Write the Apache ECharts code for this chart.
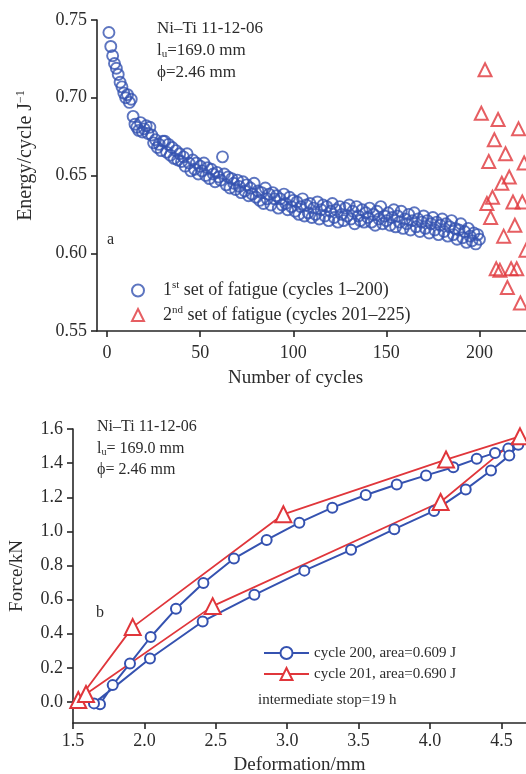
<!DOCTYPE html>
<html>
<head>
<meta charset="utf-8">
<script src="https://cdn.jsdelivr.net/npm/echarts@6.0.0/dist/echarts.min.js"></script>
<style>
  html, body { margin: 0; padding: 0; background: #fff; }
  #chart { width: 526px; height: 774px; }
</style>
</head>
<body>
<div id="chart"></div>
<script>
// panel a: energy per cycle, cycles 1-200 (index + 1 = cycle number)
const energySet1 = [
  0.742, 0.733, 0.727, 0.722, 0.719, 0.715, 0.710, 0.707, 0.703, 0.700,
  0.702, 0.697, 0.699, 0.688, 0.683, 0.681, 0.679, 0.684, 0.678, 0.680,
  0.682, 0.677, 0.681, 0.676, 0.671, 0.673, 0.668, 0.670, 0.666, 0.672,
  0.672, 0.665, 0.670, 0.663, 0.668, 0.661, 0.666, 0.660, 0.664, 0.659,
  0.662, 0.656, 0.664, 0.658, 0.653, 0.660, 0.654, 0.658, 0.651, 0.656,
  0.653, 0.658, 0.650, 0.655, 0.648, 0.654, 0.651, 0.646, 0.652, 0.649,
  0.647, 0.662, 0.651, 0.644, 0.649, 0.642, 0.648, 0.645, 0.641, 0.647,
  0.643, 0.639, 0.646, 0.640, 0.644, 0.637, 0.642, 0.638, 0.645, 0.636,
  0.640, 0.634, 0.639, 0.632, 0.642, 0.635, 0.638, 0.631, 0.639, 0.635,
  0.637, 0.629, 0.635, 0.631, 0.638, 0.632, 0.628, 0.636, 0.630, 0.634,
  0.627, 0.633, 0.625, 0.630, 0.635, 0.624, 0.631, 0.626, 0.632, 0.623,
  0.629, 0.625, 0.633, 0.622, 0.628, 0.631, 0.624, 0.630, 0.621, 0.627,
  0.632, 0.623, 0.628, 0.620, 0.630, 0.625, 0.621, 0.629, 0.624, 0.631,
  0.622, 0.627, 0.619, 0.630, 0.624, 0.621, 0.628, 0.620, 0.626, 0.623,
  0.629, 0.620, 0.625, 0.618, 0.627, 0.622, 0.630, 0.619, 0.624, 0.621,
  0.626, 0.618, 0.623, 0.628, 0.617, 0.624, 0.620, 0.627, 0.616, 0.622,
  0.619, 0.625, 0.615, 0.621, 0.626, 0.617, 0.622, 0.614, 0.620, 0.624,
  0.616, 0.621, 0.613, 0.619, 0.623, 0.615, 0.620, 0.612, 0.618, 0.622,
  0.614, 0.619, 0.611, 0.617, 0.621, 0.612, 0.616, 0.609, 0.615, 0.619,
  0.610, 0.614, 0.607, 0.616, 0.611, 0.608, 0.613, 0.606, 0.612, 0.609
];

// panel a: second set after the stop
const cyclesSet2 = [201, 203, 204, 205, 206, 207, 208, 209, 210, 211, 212, 213,
  214, 215, 216, 217, 218, 219, 220, 221, 222, 223, 224, 225];
const energySet2 = [0.690, 0.718, 0.632, 0.659, 0.623, 0.636, 0.673, 0.590, 0.686, 0.589, 0.645, 0.611,
  0.664, 0.578, 0.649, 0.590, 0.633, 0.618, 0.590, 0.680, 0.568, 0.633, 0.658, 0.602];

const energyTicks = [0.55, 0.60, 0.65, 0.70, 0.75];
const cycleTicks = [0, 50, 100, 150, 200];

// panel b: force-deformation loops
const deform200 = [1.689, 1.778, 1.899, 2.044, 2.221, 2.413, 2.627, 2.856, 3.085, 3.316, 3.550, 3.767,
  3.972, 4.163, 4.327, 4.455, 4.548, 4.618, 4.555, 4.427, 4.250, 4.028, 3.750, 3.447,
  3.120, 2.770, 2.408, 2.039, 1.647];
const force200 = [-0.013, 0.099, 0.226, 0.381, 0.546, 0.698, 0.841, 0.950, 1.051, 1.139, 1.213, 1.275,
  1.328, 1.376, 1.425, 1.460, 1.485, 1.508, 1.444, 1.357, 1.246, 1.120, 1.013, 0.892,
  0.770, 0.628, 0.472, 0.255, -0.008];
const deform201 = [1.537, 1.918, 2.973, 4.112, 4.630, 4.074, 2.478, 1.591];
const force201 = [0.012, 0.439, 1.100, 1.421, 1.557, 1.172, 0.562, 0.047];

const deformTicks = [1.5, 2.0, 2.5, 3.0, 3.5, 4.0, 4.5];
const forceTicks = [0.0, 0.2, 0.4, 0.6, 0.8, 1.0, 1.2, 1.4, 1.6];

const SERIF = '"Liberation Serif", "DejaVu Serif", serif';
const TXT = '#2b2b2b';
const AX = '#262626';
const BLUE = '#3552b0';
const RED = '#e0363b';

const chart = echarts.init(document.getElementById('chart'));

function axisBase(ticks, digits, margin) {
  return {
    type: 'value',
    splitLine: { show: false },
    axisLine: { show: true, onZero: false, lineStyle: { color: AX, width: 1.6 } },
    axisTick: { show: true, length: 6, customValues: ticks, lineStyle: { color: AX, width: 1.6 } },
    axisLabel: {
      customValues: ticks,
      margin: margin,
      color: TXT,
      fontFamily: SERIF,
      fontSize: 18,
      formatter: v => v.toFixed(digits)
    }
  };
}

const set1 = energySet1.map((v, i) => [i + 1, v]);
const set2 = cyclesSet2.map((c, i) => [c, energySet2[i]]);
const loop200 = deform200.map((d, i) => [d, force200[i]]);
const loop201 = deform201.map((d, i) => [d, force201[i]]);

function txt(x, y, text, size, rich) {
  return {
    type: 'text', x: x, y: y,
    style: {
      text: text, fill: TXT, fontFamily: SERIF, fontSize: size,
      verticalAlign: 'middle', rich: rich
    }
  };
}

const noteRich = (size) => ({
  m: { fontFamily: SERIF, fontSize: size, color: TXT },
  sub: { fontFamily: SERIF, fontSize: Math.round(size * 0.65), color: TXT, verticalAlign: 'bottom' }
});

const option = {
  backgroundColor: '#fff',
  animation: false,
  grid: [
    { left: 97, top: 20, right: 0, height: 311, outerBoundsMode: 'none' },
    { left: 73, top: 429, right: 0, height: 294, outerBoundsMode: 'none' }
  ],
  xAxis: [
    Object.assign(axisBase(cycleTicks, 0, 13), {
      gridIndex: 0, min: -5.4, max: 225,
      name: 'Number of cycles', nameLocation: 'middle', nameGap: 38,
      nameTextStyle: { fontFamily: SERIF, fontSize: 19, color: TXT, padding: [0, 32, 0, 0] }
    }),
    Object.assign(axisBase(deformTicks, 1, 9), {
      gridIndex: 1, min: 1.5, max: 4.672,
      name: 'Deformation/mm', nameLocation: 'middle', nameGap: 33,
      nameTextStyle: { fontFamily: SERIF, fontSize: 19, color: TXT }
    })
  ],
  yAxis: [
    Object.assign(axisBase(energyTicks, 2, 10), {
      gridIndex: 0, min: 0.55, max: 0.75,
      name: '{a|Energy/cycle J}{s|−1}', nameLocation: 'middle', nameGap: 60,
      nameTextStyle: {
        padding: [0, 0, 0, 40],
        rich: {
          a: { fontFamily: SERIF, fontSize: 20, color: TXT, lineHeight: 22 },
          s: { fontFamily: SERIF, fontSize: 12, color: TXT, verticalAlign: 'top', lineHeight: 22 }
        }
      }
    }),
    Object.assign(axisBase(forceTicks, 1, 10), {
      gridIndex: 1, min: -0.123, max: 1.6,
      name: 'Force/kN', nameLocation: 'middle', nameGap: 46,
      nameTextStyle: { fontFamily: SERIF, fontSize: 19, color: TXT }
    })
  ],
  legend: [
    {
      data: ['set1', 'set2'],
      orient: 'vertical', left: 126, top: 275,
      itemWidth: 12, itemHeight: 12, itemGap: 5,
      formatter: n => n === 'set1'
        ? '{n|1}{sup|st}{n| set of fatigue (cycles 1–200)}'
        : '{n|2}{sup|nd}{n| set of fatigue (cycles 201–225)}',
      textStyle: {
        padding: [0, 0, 0, 14],
        rich: {
          n: { fontFamily: SERIF, fontSize: 18, color: TXT, lineHeight: 21 },
          sup: { fontFamily: SERIF, fontSize: 11, color: TXT, verticalAlign: 'top', lineHeight: 21 }
        }
      }
    },
    {
      data: ['cycle 200, area=0.609 J', 'cycle 201, area=0.690 J'],
      orient: 'vertical', left: 258, top: 640,
      itemWidth: 45, itemHeight: 15, itemGap: 5,
      textStyle: { fontFamily: SERIF, fontSize: 15, color: TXT, lineHeight: 16 }
    }
  ],
  graphic: [
    txt(157, 29, 'Ni–Ti 11-12-06', 17),
    txt(157, 51, '{m|l}{sub|u}{m|=169.0 mm}', 17, noteRich(17)),
    txt(157, 73, 'ϕ=2.46 mm', 17),
    txt(107, 240, 'a', 16),
    txt(97, 427, 'Ni–Ti 11-12-06', 16),
    txt(97, 449, '{m|l}{sub|u}{m|= 169.0 mm}', 16, noteRich(16)),
    txt(97, 470, 'ϕ= 2.46 mm', 16),
    txt(96, 613, 'b', 16),
    txt(258, 700, 'intermediate stop=19 h', 15)
  ],
  series: [
    {
      name: 'set1', type: 'scatter', xAxisIndex: 0, yAxisIndex: 0,
      data: set1, symbol: 'circle', symbolSize: 11,
      itemStyle: { color: 'rgba(255,255,255,0)', borderColor: BLUE, borderWidth: 1.9 }
    },
    {
      name: 'set2', type: 'scatter', xAxisIndex: 0, yAxisIndex: 0,
      data: set2, symbol: 'triangle', symbolSize: 13,
      itemStyle: { color: 'rgba(255,255,255,0)', borderColor: RED, borderWidth: 2 }
    },
    {
      name: 'cycle 200, area=0.609 J', type: 'line', xAxisIndex: 1, yAxisIndex: 1,
      data: loop200, symbol: 'emptyCircle', symbolSize: 10,
      lineStyle: { color: BLUE, width: 2 },
      itemStyle: { color: BLUE, borderWidth: 1.8 }
    },
    {
      name: 'cycle 201, area=0.690 J', type: 'line', xAxisIndex: 1, yAxisIndex: 1,
      data: loop201, symbol: 'emptyTriangle', symbolSize: 16,
      lineStyle: { color: RED, width: 1.8 },
      itemStyle: { color: RED, borderWidth: 1.8 }
    }
  ]
};

chart.setOption(option);
window.addEventListener('resize', () => chart.resize());
</script>
</body>
</html>
